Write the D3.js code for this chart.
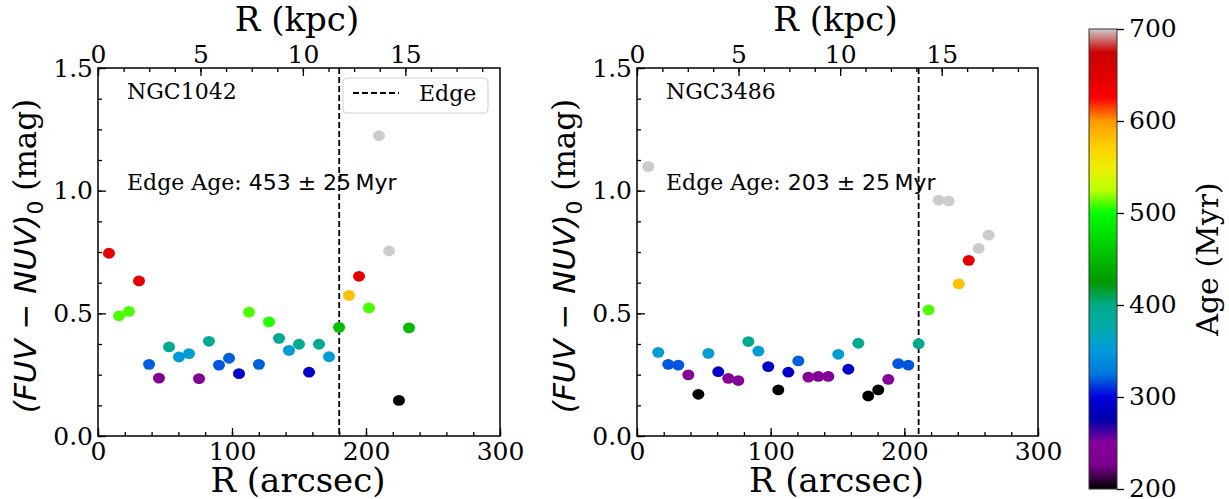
<!DOCTYPE html>
<html>
<head>
<meta charset="utf-8">
<script src="https://cdn.jsdelivr.net/npm/d3@7"></script>
<style>
  body { margin: 0; background: #fff; }
  svg text { fill: #000; }
</style>
</head>
<body>
<div id="chart"></div>
<script>
// ---- data ----
const galaxies = ["NGC1042", "NGC3486"];
const edgeAges = ["453", "203"];
const edgeR = [180.0, 210.7];              // arcsec
const kpcPerArcsec = [0.0654, 0.0658];

const r1042 = [8.2, 15.7, 23.1, 30.6, 38.1, 45.5, 53.0, 60.4, 67.9, 75.4, 82.8, 90.3, 97.8, 105.2, 112.7, 120.1,
  127.6, 135.1, 142.5, 150.0, 157.5, 164.9, 172.4, 179.9, 187.3, 194.8, 202.2, 209.7, 217.2, 224.6, 232.1];
const col1042 = [0.745, 0.490, 0.508, 0.632, 0.292, 0.236, 0.363, 0.322, 0.336, 0.234, 0.386, 0.289, 0.317, 0.254, 0.505, 0.292,
  0.465, 0.398, 0.349, 0.374, 0.260, 0.374, 0.323, 0.443, 0.573, 0.651, 0.522, 1.224, 0.754, 0.145, 0.441];
const age1042 = [645, 510, 510, 645, 320, 240, 395, 350, 355, 240, 395, 318, 320, 290, 510, 320,
  505, 395, 355, 395, 290, 395, 355, 453, 580, 645, 510, 720, 720, 195, 450];

const r3486 = [8.5, 15.9, 23.4, 30.9, 38.4, 45.9, 53.4, 60.8, 68.3, 75.8, 83.3, 90.8, 98.2, 105.7, 113.2, 120.7, 128.2, 135.6,
  143.1, 150.6, 158.1, 165.6, 173.0, 180.5, 188.0, 195.5, 203.0, 210.7, 218.2, 225.7, 233.2, 240.7, 248.2, 255.6, 263.1];
const col3486 = [1.098, 0.341, 0.292, 0.289, 0.249, 0.170, 0.337, 0.262, 0.235, 0.226, 0.385, 0.346, 0.283, 0.188, 0.260, 0.306, 0.240, 0.243,
  0.243, 0.333, 0.272, 0.378, 0.163, 0.188, 0.231, 0.295, 0.289, 0.376, 0.514, 0.961, 0.958, 0.620, 0.716, 0.765, 0.819];
const age3486 = [720, 355, 318, 318, 245, 195, 355, 290, 245, 245, 395, 355, 290, 195, 290, 320, 245, 245,
  245, 355, 290, 395, 195, 195, 245, 318, 318, 395, 510, 720, 720, 580, 645, 720, 720];

const xTicks = [0, 100, 200, 300];
const yTicks = [0.0, 0.5, 1.0, 1.5];
const kpcTicks = [0, 5, 10, 15];
const ageTicks = [200, 300, 400, 500, 600, 700];

// nipy_spectral colormap stops (t, r, g, b)
const nipy = [
  [0.00, 0.0, 0.0, 0.0], [0.05, 0.4667, 0.0, 0.5333], [0.10, 0.5333, 0.0, 0.6], [0.15, 0.0, 0.0, 0.6667],
  [0.20, 0.0, 0.0, 0.8667], [0.25, 0.0, 0.4667, 0.8667], [0.30, 0.0, 0.6, 0.8667], [0.35, 0.0, 0.6667, 0.6667],
  [0.40, 0.0, 0.6667, 0.5333], [0.45, 0.0, 0.6, 0.0], [0.50, 0.0, 0.7333, 0.0], [0.55, 0.0, 0.8667, 0.0],
  [0.60, 0.0, 1.0, 0.0], [0.65, 0.7333, 1.0, 0.0], [0.70, 0.9333, 0.9333, 0.0], [0.75, 1.0, 0.8, 0.0],
  [0.80, 1.0, 0.6, 0.0], [0.85, 1.0, 0.0, 0.0], [0.90, 0.8667, 0.0, 0.0], [0.95, 0.8, 0.0, 0.0],
  [1.00, 0.8, 0.8, 0.8]
];
const toRgb = s => d3.rgb(s[1] * 255, s[2] * 255, s[3] * 255).formatHex();

const ageMin = 200, ageMax = 700;
const color = d3.scaleLinear()
  .domain(nipy.map(s => ageMin + s[0] * (ageMax - ageMin)))
  .range(nipy.map(toRgb))
  .clamp(true);

// ---- layout ----
const W = 1229, H = 499;
const panels = [
  {x0: 98, x1: 500, r: r1042, c: col1042, a: age1042},
  {x0: 637, x1: 1038, r: r3486, c: col3486, a: age3486}
];
const y0 = 68, y1 = 436;
const serif = "DejaVu Serif";
const sans = "DejaVu Sans";

const svg = d3.select("#chart").append("svg")
  .attr("width", W).attr("height", H)
  .style("font-family", serif);

const y = d3.scaleLinear().domain([0, 1.5]).range([y1, y0]);

function styleAxis(g, size) {
  g.select(".domain").remove();
  g.selectAll(".tick line").attr("stroke", "#000").attr("stroke-width", 1.3);
  g.selectAll(".tick text").style("font-family", serif).style("font-size", size + "px");
}

panels.forEach((p, i) => {
  const x = d3.scaleLinear().domain([0, 300]).range([p.x0, p.x1]);
  const xk = d3.scaleLinear().domain([0, 300 * kpcPerArcsec[i]]).range([p.x0, p.x1]);
  const g = svg.append("g");

  // minor ticks
  g.append("g").attr("transform", `translate(0,${y1})`)
    .call(d3.axisBottom(x).tickValues(d3.range(0, 301, 20)).tickFormat("").tickSize(-4))
    .call(a => styleAxis(a, 24));
  g.append("g").attr("transform", `translate(${p.x0},0)`)
    .call(d3.axisLeft(y).tickValues(d3.range(0, 1.51, 0.125)).tickFormat("").tickSize(-4))
    .call(a => styleAxis(a, 24));
  g.append("g").attr("transform", `translate(0,${y0})`)
    .call(d3.axisTop(xk).tickValues(d3.range(0, 300 * kpcPerArcsec[i], 1.25)).tickFormat("").tickSize(-4))
    .call(a => styleAxis(a, 24));

  // major ticks
  g.append("g").attr("transform", `translate(0,${y1})`)
    .call(d3.axisBottom(x).tickValues(xTicks).tickFormat(d3.format("d")).tickSize(-8).tickPadding(6))
    .call(a => styleAxis(a, 25));
  g.append("g").attr("transform", `translate(${p.x0},0)`)
    .call(d3.axisLeft(y).tickValues(yTicks).tickFormat(d3.format(".1f")).tickSize(-8).tickPadding(5))
    .call(a => styleAxis(a, 25))
    .call(a => a.selectAll(".tick text").attr("x", -5));
  g.append("g").attr("transform", `translate(0,${y0})`)
    .call(d3.axisTop(xk).tickValues(kpcTicks).tickFormat(d3.format("d")).tickSize(-8).tickPadding(5))
    .call(a => styleAxis(a, 25))
    .call(a => a.selectAll(".tick text").attr("y", -5));

  // frame
  g.append("rect")
    .attr("x", p.x0).attr("y", y0)
    .attr("width", p.x1 - p.x0).attr("height", y1 - y0)
    .attr("fill", "none").attr("stroke", "#000").attr("stroke-width", 1.5);

  // edge line
  g.append("line")
    .attr("x1", x(edgeR[i])).attr("x2", x(edgeR[i]))
    .attr("y1", y0).attr("y2", y1)
    .attr("stroke", "#000").attr("stroke-width", 1.8)
    .attr("stroke-dasharray", "6,3");

  // points
  const pts = p.r.map((r, k) => ({r: r, c: p.c[k], a: p.a[k]}));
  g.selectAll("ellipse.pt")
    .data(pts)
    .enter()
    .append("ellipse")
    .attr("class", "pt")
    .attr("cx", d => x(d.r))
    .attr("cy", d => y(d.c))
    .attr("rx", 6).attr("ry", 5.4)
    .attr("fill", d => color(d.a));

  // texts
  g.append("text")
    .attr("x", p.x0 + 29).attr("y", 99)
    .style("font-size", "22px")
    .text(galaxies[i]);
  const t = g.append("text")
    .attr("x", p.x0 + 29).attr("y", 190)
    .style("font-size", "22px");
  t.append("tspan").text("Edge Age: ");
  t.append("tspan").style("font-family", sans).text(edgeAges[i] + " \u00b1 25\u2009Myr");

  // axis titles
  g.append("text")
    .attr("x", (p.x0 + p.x1) / 2 - 1).attr("y", 492)
    .attr("text-anchor", "middle")
    .style("font-size", "34px")
    .text("R (arcsec)");
  g.append("text")
    .attr("x", (p.x0 + p.x1) / 2 - 2).attr("y", 31)
    .attr("text-anchor", "middle")
    .style("font-size", "34px")
    .text("R (kpc)");
  const yl = g.append("text")
    .attr("transform", `translate(${p.x0 - 62},${(y0 + y1) / 2 + 4}) rotate(-90)`)
    .attr("text-anchor", "middle")
    .style("font-size", "31px");
  yl.append("tspan").style("font-family", sans).style("font-style", "italic").text("(FUV \u2212 NUV)");
  yl.append("tspan").style("font-family", sans).style("font-size", "22px").attr("dy", 7).text("0");
  yl.append("tspan").attr("dy", -7).text(" (mag)");
});

// legend (left panel only)
const lg = svg.append("g");
lg.append("rect")
  .attr("x", 343).attr("y", 78).attr("width", 145).attr("height", 35).attr("rx", 4)
  .attr("fill", "#fff").attr("fill-opacity", 0.8)
  .attr("stroke", "#d0d0d0").attr("stroke-width", 1);
lg.append("line")
  .attr("x1", 353).attr("x2", 399).attr("y1", 93).attr("y2", 93)
  .attr("stroke", "#000").attr("stroke-width", 1.8).attr("stroke-dasharray", "6,3");
lg.append("text")
  .attr("x", 419).attr("y", 101)
  .style("font-size", "22px")
  .text("Edge");

// colorbar
const cb = {x0: 1089, x1: 1117, y0: 29, y1: 489};
const grad = svg.append("defs").append("linearGradient")
  .attr("id", "nipy").attr("x1", 0).attr("x2", 0).attr("y1", 1).attr("y2", 0);
grad.selectAll("stop")
  .data(nipy)
  .enter()
  .append("stop")
  .attr("offset", d => d[0])
  .attr("stop-color", d => toRgb(d));
svg.append("rect")
  .attr("x", cb.x0).attr("y", cb.y0)
  .attr("width", cb.x1 - cb.x0).attr("height", cb.y1 - cb.y0)
  .attr("fill", "url(#nipy)")
  .attr("stroke", "#333").attr("stroke-width", 1);
const ya = d3.scaleLinear().domain([ageMin, ageMax]).range([cb.y1, cb.y0]);
svg.append("g").attr("transform", `translate(${cb.x1},0)`)
  .call(d3.axisRight(ya).tickValues(ageTicks).tickFormat(d3.format("d")).tickSize(7).tickPadding(5))
  .call(a => styleAxis(a, 25))
  .call(a => a.selectAll(".tick text").attr("dy", "0.3em"));
svg.append("text")
  .attr("transform", `translate(1218,${(cb.y0 + cb.y1) / 2}) rotate(-90)`)
  .attr("text-anchor", "middle")
  .style("font-size", "30px")
  .text("Age (Myr)");
</script>
</body>
</html>
